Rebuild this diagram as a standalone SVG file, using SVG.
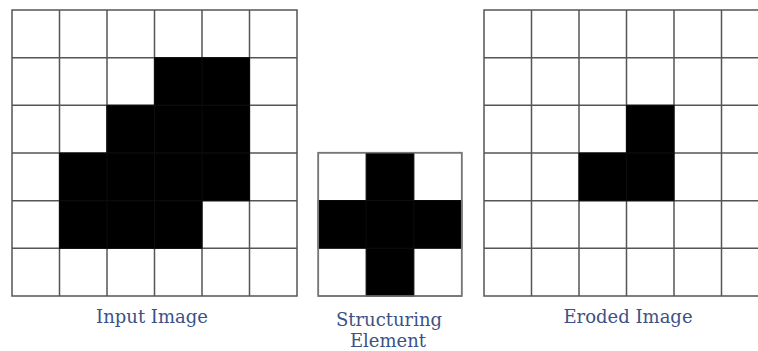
<svg xmlns="http://www.w3.org/2000/svg" width="758" height="351" viewBox="0 0 758 351">
  <style>
    .cell { fill: #ffffff; stroke: #555555; stroke-width: 1.5; }
    .on { fill: #000000; stroke: #0a0a0a; stroke-width: 1; }
    .frame { fill: none; stroke: #777777; stroke-width: 1.5; }
    .seam { stroke: #0d0d0d; stroke-width: 1; fill: none; }
    .label { font-family: "DejaVu Serif", "Liberation Serif", serif; font-size: 18px; fill: #3b5286; text-anchor: middle; }
  </style>
  <defs>
    <!-- one 6x6 grid of empty cells, cell size 47.5 -->
    <g id="grid6">
      <rect class="cell" x="0" y="0" width="285" height="286"/>
      <path d="M47.5 0V286M95 0V286M142.5 0V286M190 0V286M237.5 0V286M0 47.7H285M0 95.3H285M0 143H285M0 190.7H285M0 238.3H285" stroke="#555555" stroke-width="1.5" fill="none"/>
    </g>
  </defs>

  <rect width="758" height="351" fill="#ffffff"/>

  <!-- input image -->
  <g id="input-image">
    <use href="#grid6" x="12" y="10"/>
    <g transform="translate(12,10)">
      <rect class="on" x="142.5" y="47.7" width="95" height="47.6"/>
      <rect class="on" x="95" y="95.3" width="142.5" height="47.7"/>
      <rect class="on" x="47.5" y="143" width="190" height="47.7"/>
      <rect class="on" x="47.5" y="190.7" width="142.5" height="47.6"/>
      <path class="seam" d="M95 95.3V238.3M142.5 47.7V238.3M190 47.7V190.7M47.5 190.7H190M95 143H237.5M142.5 95.3H237.5"/>
    </g>
    <text class="label" x="152" y="323">Input Image</text>
  </g>

  <!-- structuring element -->
  <g id="structuring-element">
    <rect class="cell" x="318.3" y="152.7" width="143.4" height="143.3"/>
    <rect class="on" x="366.1" y="152.7" width="47.8" height="143.3"/>
    <rect class="on" x="318.3" y="200.5" width="143.4" height="47.8"/>
    <path class="seam" d="M366.1 200.5V248.3M413.9 200.5V248.3M366.1 200.5H413.9M366.1 248.3H413.9"/>
    <rect class="frame" x="318.3" y="152.7" width="143.4" height="143.3"/>
    <text class="label" x="389" y="326">Structuring</text>
    <text class="label" x="388" y="347">Element</text>
  </g>

  <!-- eroded image -->
  <g id="eroded-image">
    <use href="#grid6" x="484" y="10"/>
    <g transform="translate(484,10)">
      <rect class="on" x="142.5" y="95.3" width="47.5" height="47.7"/>
      <rect class="on" x="95" y="143" width="95" height="47.7"/>
      <path class="seam" d="M142.5 143V190.7M142.5 143H190"/>
    </g>
    <text class="label" x="628" y="323">Eroded Image</text>
  </g>

  <!-- connectors: none in this figure -->
  <g id="connectors"/>
</svg>
